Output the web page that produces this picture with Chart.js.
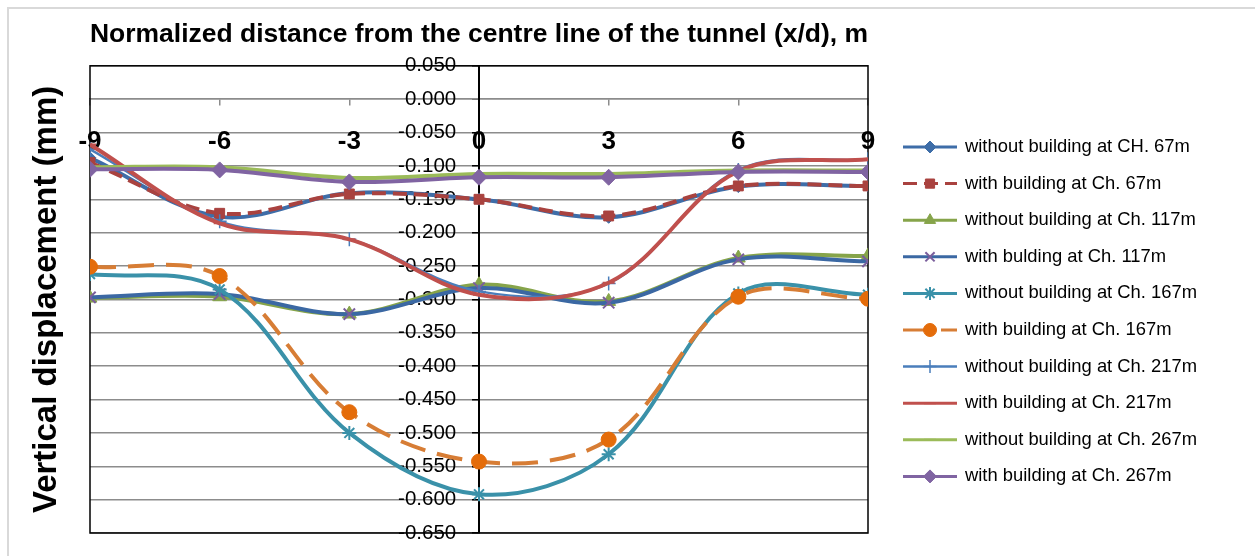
<!DOCTYPE html>
<html>
<head>
<meta charset="utf-8">
<script src="https://cdn.jsdelivr.net/npm/chart.js@4.4.1/dist/chart.umd.min.js"></script>
<style>
  html, body { margin: 0; padding: 0; background: #fff; }
  #wrap { width: 1255px; height: 556px; position: relative; }
</style>
</head>
<body>
<div id="wrap"><canvas id="chart" width="1255" height="556"></canvas></div>
<script>
// normalized distance x/d
const xPositions = [-9, -6, -3, 0, 3, 6, 9];

// vertical displacement (mm)
const without67 = [-0.088, -0.176, -0.141, -0.150, -0.177, -0.131, -0.130];
const with67 = [-0.095, -0.171, -0.142, -0.150, -0.175, -0.130, -0.130];
const without117 = [-0.298, -0.296, -0.322, -0.278, -0.303, -0.238, -0.235];
const with117 = [-0.297, -0.292, -0.322, -0.283, -0.305, -0.240, -0.243];
const without167 = [-0.262, -0.285, -0.500, -0.592, -0.532, -0.291, -0.293];
const with167 = [-0.251, -0.265, -0.469, -0.543, -0.510, -0.296, -0.299];
const without217 = [-0.075, -0.183, -0.210, -0.288, -0.276, -0.106, -0.090];
const with217 = [-0.068, -0.186, -0.210, -0.293, -0.275, -0.108, -0.090];
const without267 = [-0.102, -0.102, -0.118, -0.112, -0.112, -0.107, -0.107];
const with267 = [-0.105, -0.106, -0.124, -0.117, -0.117, -0.109, -0.109];

const seriesNames = [
  "without building at CH. 67m",
  "with building at Ch. 67m",
  "without building at Ch. 117m",
  "with bulding at Ch. 117m",
  "without building at Ch. 167m",
  "with building at Ch. 167m",
  "without building at Ch. 217m",
  "with building at Ch. 217m",
  "without building at Ch. 267m",
  "with building at Ch. 267m"
];

// axis ticks
const xMin = -9, xMax = 9, xStep = 3;
const yMin = -0.65, yMax = 0.05, yStep = 0.05;

const FONT = "'Liberation Sans', Arial, sans-serif";

function pts(arr) {
  return xPositions.map((x, i) => ({ x: x, y: arr[i] }));
}

// style per series: line colour, marker, marker colour
const styles = [
  { line: "#3E6DA8", style: "rectRot", fill: "#3E6DA8", r: 6, w: 4 },
  { line: "#A9423F", style: "rect", fill: "#A9423F", r: 7, w: 4, dash: [14, 7] },
  { line: "#86A44A", style: "triangle", fill: "#86A44A", r: 8, w: 4 },
  { line: "#3B68A3", style: "crossRot", fill: "#7A5E9C", r: 8, w: 4, pbw: 2 },
  { line: "#3A91A9", style: "star", fill: "#3A91A9", r: 7, w: 4, pbw: 2 },
  { line: "#D77D35", style: "circle", fill: "#E46C0A", r: 7.5, w: 4, dash: [26, 12] },
  { line: "#4A7EBB", style: "cross", fill: "#4A7EBB", r: 7, w: 2.5, pbw: 1.5 },
  { line: "#C0504D", style: "line", fill: "#C0504D", r: 6, w: 4, pbw: 2 },
  { line: "#9BBB59", style: "line", fill: "#9BBB59", r: 6, w: 4, pbw: 2 },
  { line: "#8064A2", style: "rectRot", fill: "#8064A2", r: 8, w: 4 }
];

const allSeries = [without67, with67, without117, with117, without167,
  with167, without217, with217, without267, with267];

const datasets = allSeries.map((arr, i) => {
  const s = styles[i];
  return {
    label: seriesNames[i],
    data: pts(arr),
    borderColor: s.line,
    borderWidth: s.w,
    borderDash: s.dash || [],
    tension: 0.35,
    pointStyle: s.style,
    pointRadius: s.r,
    pointBackgroundColor: s.fill,
    pointBorderColor: s.fill,
    pointBorderWidth: s.pbw || 1,
    order: 10 - i
  };
});

// frame + plot border
const framePlugin = {
  id: "frame",
  beforeDraw(chart) {
    const ctx = chart.ctx;
    ctx.save();
    ctx.fillStyle = "#fff";
    ctx.fillRect(0, 0, chart.width, chart.height);
    ctx.strokeStyle = "#d9d9d9";
    ctx.lineWidth = 2;
    ctx.beginPath();
    ctx.moveTo(8, chart.height);
    ctx.lineTo(8, 8);
    ctx.lineTo(chart.width, 8);
    ctx.stroke();
    ctx.restore();
  },
  beforeDatasetsDraw(chart) {
    const a = chart.chartArea;
    const ctx = chart.ctx;
    ctx.save();
    ctx.strokeStyle = "#000";
    ctx.lineWidth = 1.5;
    ctx.strokeRect(a.left, a.top, a.right - a.left, a.bottom - a.top);
    ctx.restore();
  }
};

// legend with line + marker samples, like the original
const legendPlugin = {
  id: "lineLegend",
  afterDraw(chart) {
    const ctx = chart.ctx;
    const x0 = 903, x1 = 957, tx = 965;
    let y = 147;
    ctx.save();
    chart.data.datasets.forEach((ds, i) => {
      ctx.setLineDash(ds.borderDash);
      ctx.strokeStyle = ds.borderColor;
      ctx.lineWidth = Math.min(ds.borderWidth, 3);
      ctx.beginPath();
      ctx.moveTo(x0, y);
      ctx.lineTo(x1, y);
      ctx.stroke();
      ctx.setLineDash([]);
      ctx.fillStyle = ds.pointBackgroundColor;
      ctx.strokeStyle = ds.pointBorderColor;
      ctx.lineWidth = ds.pointBorderWidth;
      Chart.helpers.drawPoint(ctx, {
        pointStyle: ds.pointStyle,
        radius: Math.min(ds.pointRadius, 6.5),
        rotation: 0,
        borderWidth: ds.pointBorderWidth
      }, (x0 + x1) / 2, y);
      ctx.fillStyle = "#000";
      ctx.font = "18.4px " + FONT;
      ctx.textBaseline = "middle";
      ctx.textAlign = "left";
      ctx.fillText(ds.label, tx, y);
      y += 36.6;
    });
    ctx.restore();
  }
};

new Chart(document.getElementById("chart"), {
  type: "line",
  data: { datasets: datasets },
  options: {
    responsive: false,
    animation: false,
    layout: { padding: { left: 8, right: 387, top: 0, bottom: 23 } },
    plugins: {
      legend: { display: false },
      tooltip: { enabled: false },
      title: {
        display: true,
        fullSize: false,
        text: "Normalized distance from the centre line of the tunnel (x/d), m",
        color: "#000",
        font: { family: FONT, size: 26.5, weight: "bold" },
        padding: { top: 19, bottom: 15 }
      }
    },
    scales: {
      x: {
        type: "linear",
        position: { y: 0 },
        min: xMin,
        max: xMax,
        ticks: {
          stepSize: xStep,
          color: "#000",
          padding: 21,
          font: { family: FONT, size: 26, weight: "bold" }
        },
        grid: { drawOnChartArea: false, drawTicks: true, tickLength: 6, tickColor: "#8c8c8c", lineWidth: 1.5 },
        border: { color: "#8c8c8c", width: 1.5 }
      },
      y: {
        type: "linear",
        position: { x: 0 },
        min: yMin,
        max: yMax,
        ticks: {
          stepSize: yStep,
          color: "#000",
          font: { family: FONT, size: 20.5 },
          // trailing spaces keep the labels clear of the centre axis
          callback: v => (Math.abs(v) < 1e-9 ? 0 : v).toFixed(3) + "    "
        },
        grid: { color: "#8c8c8c", lineWidth: 1.5, tickLength: 6, tickColor: "#000" },
        border: { color: "#000", width: 2 }
      },
      yt: {
        type: "linear",
        position: "left",
        min: yMin,
        max: yMax,
        ticks: { display: false },
        grid: { display: false },
        border: { display: false },
        title: {
          display: true,
          text: "Vertical displacement (mm)",
          color: "#000",
          font: { family: FONT, size: 33, weight: "bold" },
          padding: { top: 19, bottom: 0 }
        },
        afterFit(scale) { scale.width = 82; }
      }
    }
  },
  plugins: [framePlugin, legendPlugin]
});
</script>
</body>
</html>
